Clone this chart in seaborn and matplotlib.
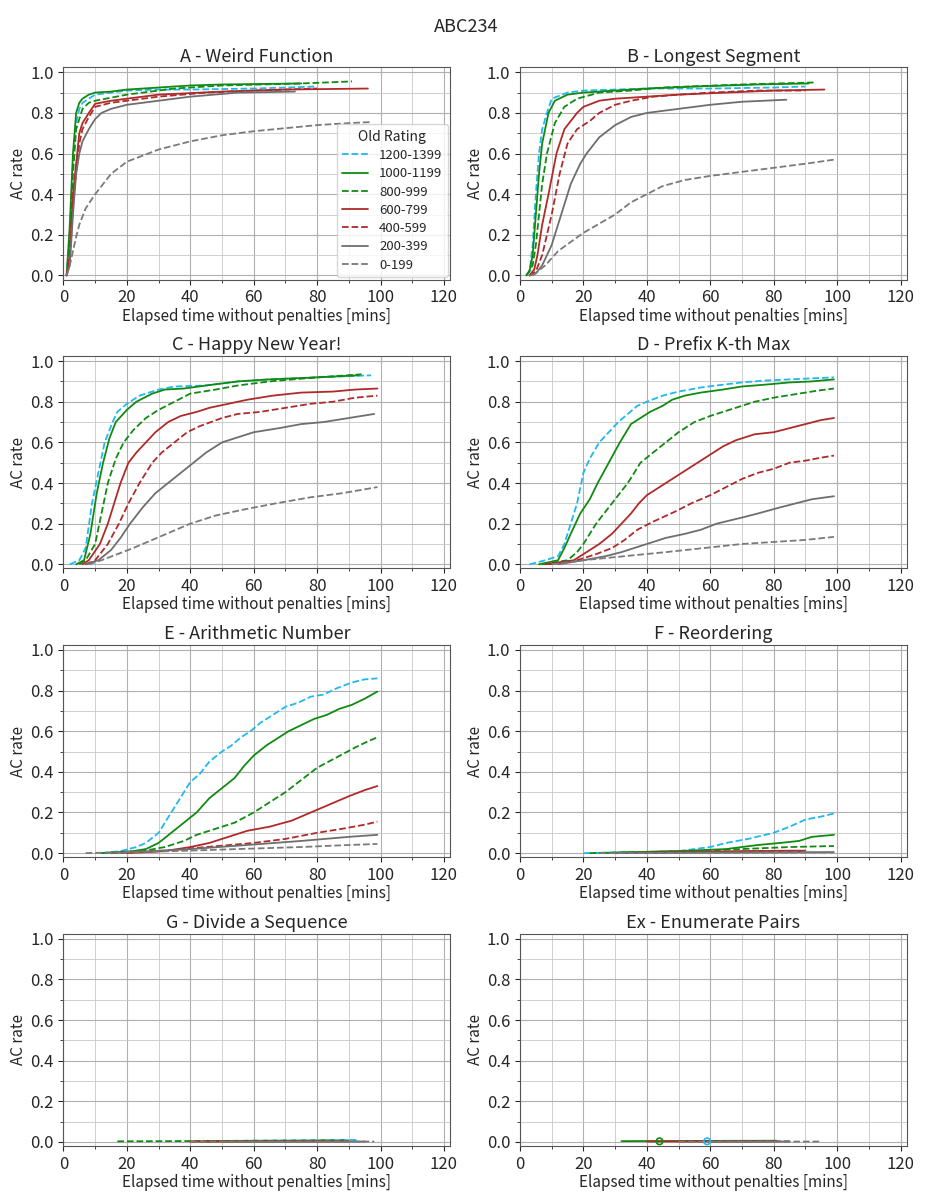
import matplotlib
matplotlib.use('Agg')
import matplotlib.pyplot as plt
import seaborn as sns
import pandas as pd
from matplotlib.ticker import MultipleLocator

# rating groups and how each one is drawn
ratings = ['1200-1399', '1000-1199', '800-999', '600-799', '400-599', '200-399', '0-199']
colors = ['#1fb8f0', '#118a11', '#118a11', '#b02a2a', '#b02a2a', '#6e6e6e', '#7a7a7a']
dashed = [True, False, True, False, True, False, True]

titles = ['A - Weird Function', 'B - Longest Segment', 'C - Happy New Year!', 'D - Prefix K-th Max',
          'E - Arithmetic Number', 'F - Reordering', 'G - Divide a Sequence', 'Ex - Enumerate Pairs']

# elapsed time [mins] / AC rate, one row per rating group (same order as ratings)
a_time = [[1, 2, 3, 4, 5, 6, 8, 10, 15, 20, 30, 40, 60, 80],
          [1, 2, 3, 4, 5, 6, 8, 10, 15, 20, 30, 40, 50, 75],
          [1, 2, 3, 4, 6, 8, 10, 15, 20, 35, 50, 75, 91],
          [1, 2, 3, 5, 6, 8, 10, 15, 20, 30, 50, 70, 96],
          [1, 2, 3, 5, 6, 8, 10, 15, 20, 30, 45, 60, 80],
          [1, 2, 3, 4, 5, 6, 8, 10, 12, 15, 20, 30, 40, 55, 73],
          [1, 2, 3, 4, 5, 7, 10, 15, 20, 30, 40, 50, 60, 70, 80, 90, 97]]
a_rate = [[0, 0.2, 0.55, 0.75, 0.82, 0.85, 0.87, 0.89, 0.9, 0.91, 0.915, 0.915, 0.92, 0.93],
          [0, 0.25, 0.6, 0.8, 0.85, 0.87, 0.89, 0.9, 0.905, 0.915, 0.925, 0.935, 0.94, 0.945],
          [0, 0.15, 0.5, 0.72, 0.82, 0.85, 0.86, 0.875, 0.89, 0.92, 0.935, 0.945, 0.955],
          [0, 0.1, 0.4, 0.7, 0.75, 0.8, 0.845, 0.86, 0.87, 0.89, 0.905, 0.915, 0.92],
          [0, 0.08, 0.35, 0.65, 0.72, 0.78, 0.83, 0.85, 0.86, 0.88, 0.9, 0.91, 0.92],
          [0, 0.05, 0.3, 0.5, 0.6, 0.66, 0.72, 0.77, 0.8, 0.82, 0.84, 0.86, 0.88, 0.9, 0.905],
          [0, 0.05, 0.12, 0.19, 0.25, 0.33, 0.4, 0.5, 0.56, 0.62, 0.66, 0.69, 0.71, 0.725, 0.74, 0.75, 0.755]]

b_time = [[2, 3, 4, 5, 6, 7, 8.5, 10, 15, 20, 40, 60, 80, 90],
          [2, 3, 4, 5, 6, 7, 9, 11, 15, 20, 30, 40, 55, 75, 91],
          [2, 4, 5, 6, 7, 8.5, 11, 14, 18, 25, 35, 45, 70, 93],
          [3, 4.5, 5.5, 7, 9, 11.5, 14, 18, 20, 25, 30, 40, 50, 65, 80, 96],
          [3, 5, 7, 8.5, 10, 12.5, 15, 18, 22, 25, 30, 35, 42, 50, 60, 75, 90],
          [3, 5, 7, 10, 13, 16, 19, 21, 25, 30, 35, 40, 50, 60, 70, 84],
          [4, 8, 12, 20, 30, 35, 40, 45, 52, 60, 70, 80, 90, 99]]
b_rate = [[0, 0.02, 0.15, 0.4, 0.6, 0.72, 0.8, 0.87, 0.9, 0.91, 0.92, 0.92, 0.925, 0.93],
          [0, 0.02, 0.1, 0.3, 0.5, 0.65, 0.8, 0.86, 0.89, 0.9, 0.91, 0.92, 0.93, 0.94, 0.945],
          [0, 0.05, 0.15, 0.3, 0.45, 0.6, 0.75, 0.83, 0.87, 0.9, 0.91, 0.925, 0.94, 0.95],
          [0, 0.03, 0.1, 0.25, 0.4, 0.6, 0.72, 0.8, 0.83, 0.86, 0.87, 0.88, 0.89, 0.9, 0.91, 0.915],
          [0, 0.02, 0.1, 0.2, 0.3, 0.5, 0.65, 0.72, 0.76, 0.8, 0.84, 0.86, 0.88, 0.89, 0.9, 0.91, 0.91],
          [0, 0.01, 0.05, 0.15, 0.3, 0.45, 0.55, 0.6, 0.68, 0.74, 0.78, 0.8, 0.82, 0.84, 0.855, 0.865],
          [0, 0.05, 0.12, 0.21, 0.3, 0.36, 0.4, 0.44, 0.47, 0.49, 0.51, 0.53, 0.55, 0.57]]

c_time = [[2, 5, 7, 9, 11, 13, 15.5, 17, 20, 24, 30, 35, 45, 55, 65, 80, 97],
          [4, 6.5, 8.5, 10.5, 12.5, 14.5, 16.5, 20, 23, 28, 32, 38, 45, 55, 65, 80, 93],
          [5, 7, 10, 12, 14, 16.5, 19, 22, 26, 30, 35, 40, 48, 55, 65, 80, 94],
          [6, 8, 11.5, 14, 16, 18, 20.5, 23, 26, 29, 33, 37, 42, 46, 52, 58, 66, 75, 85, 92, 99],
          [7, 10, 14, 17.5, 20.5, 24, 28, 31, 35, 39, 43, 50, 55, 62, 70, 78, 85, 92, 99],
          [7, 11, 15, 18, 21, 25, 29, 33, 37, 41, 45, 50, 56, 60, 68, 75, 82, 90, 98],
          [8, 12, 17, 22, 28, 34, 40, 48, 57, 67, 78, 88, 99]]
c_rate = [[0, 0.02, 0.08, 0.3, 0.45, 0.6, 0.7, 0.75, 0.79, 0.83, 0.86, 0.875, 0.88, 0.9, 0.91, 0.92, 0.93],
          [0, 0.02, 0.15, 0.35, 0.5, 0.62, 0.7, 0.76, 0.8, 0.84, 0.86, 0.865, 0.88, 0.9, 0.91, 0.92, 0.93],
          [0, 0.02, 0.1, 0.25, 0.4, 0.52, 0.6, 0.66, 0.72, 0.76, 0.8, 0.84, 0.86, 0.88, 0.9, 0.92, 0.935],
          [0, 0.02, 0.1, 0.2, 0.3, 0.4, 0.5, 0.55, 0.6, 0.65, 0.7, 0.73, 0.75, 0.77, 0.79, 0.81, 0.83, 0.845, 0.85,
           0.86, 0.865],
          [0, 0.02, 0.1, 0.2, 0.3, 0.4, 0.5, 0.55, 0.6, 0.65, 0.68, 0.72, 0.74, 0.75, 0.77, 0.79, 0.8, 0.82, 0.83],
          [0, 0.02, 0.07, 0.13, 0.2, 0.28, 0.35, 0.4, 0.45, 0.5, 0.55, 0.6, 0.63, 0.65, 0.67, 0.69, 0.7, 0.72, 0.74],
          [0, 0.02, 0.05, 0.08, 0.12, 0.16, 0.2, 0.24, 0.27, 0.3, 0.33, 0.35, 0.38]]

d_time = [[3, 8, 12, 14, 16, 18, 20, 22, 25, 28, 31, 34, 37, 40, 45, 50, 57, 62, 70, 78, 85, 92, 99],
          [6, 12, 14, 16, 19, 22, 24.5, 28, 31.5, 35, 38, 41, 45, 48, 52, 57, 64, 70, 78, 85, 92, 99],
          [7, 15, 18, 20, 24, 29, 34, 38, 42, 46, 50, 55, 60, 66, 70, 74, 80, 88, 94, 99],
          [8, 17, 21, 25, 29, 32, 35, 37.5, 40, 44, 48, 52, 56, 60, 64, 68, 74, 80, 85, 90, 95, 99],
          [9, 18, 24, 29, 33, 37, 42, 49, 54, 60, 65, 70, 75, 80, 85, 90, 95, 99],
          [12, 20, 27, 32, 36, 40, 46, 52, 57, 62, 70, 75, 82, 87, 92, 99],
          [10, 20, 33, 46, 58, 70, 80, 90, 99]]
d_rate = [[0, 0.02, 0.04, 0.1, 0.2, 0.3, 0.45, 0.52, 0.6, 0.65, 0.7, 0.74, 0.78, 0.8, 0.83, 0.85, 0.87, 0.88,
           0.895, 0.905, 0.91, 0.915, 0.92],
          [0, 0.02, 0.08, 0.15, 0.25, 0.32, 0.4, 0.5, 0.6, 0.69, 0.72, 0.75, 0.78, 0.81, 0.83, 0.845, 0.86, 0.875,
           0.885, 0.895, 0.9, 0.91],
          [0, 0.02, 0.06, 0.1, 0.2, 0.3, 0.4, 0.5, 0.55, 0.6, 0.65, 0.7, 0.73, 0.76, 0.78, 0.8, 0.82, 0.84, 0.855,
           0.865],
          [0, 0.02, 0.06, 0.1, 0.15, 0.2, 0.25, 0.3, 0.34, 0.38, 0.42, 0.46, 0.5, 0.54, 0.58, 0.61, 0.64, 0.65, 0.67,
           0.69, 0.71, 0.72],
          [0, 0.02, 0.05, 0.08, 0.12, 0.17, 0.21, 0.26, 0.3, 0.34, 0.38, 0.42, 0.45, 0.47, 0.5, 0.51, 0.525, 0.535],
          [0, 0.02, 0.04, 0.06, 0.08, 0.1, 0.13, 0.15, 0.17, 0.2, 0.23, 0.25, 0.28, 0.3, 0.32, 0.335],
          [0, 0.02, 0.04, 0.06, 0.08, 0.1, 0.11, 0.12, 0.135]]

e_time = [[12, 18, 23, 26, 30, 34, 36, 38, 40, 43, 46, 50, 53, 56, 59, 62, 66, 70, 74, 78, 82, 86, 91, 95, 99],
          [12, 22, 26, 30, 34, 38, 42, 46, 50, 54, 57, 60, 64, 67, 71, 75, 79, 83, 87, 91, 95, 99],
          [15, 25, 32, 38, 42, 48, 54, 60, 65, 70, 75, 80, 86, 92, 96, 99],
          [20, 32, 40, 46, 52, 58, 65, 72, 78, 84, 90, 95, 99],
          [15, 30, 45, 60, 70, 80, 88, 95, 99],
          [15, 28, 40, 58, 75, 90, 99],
          [7, 20, 35, 55, 75, 90, 99]]
e_rate = [[0, 0.01, 0.03, 0.05, 0.1, 0.2, 0.25, 0.3, 0.35, 0.39, 0.45, 0.5, 0.53, 0.57, 0.6, 0.64, 0.68, 0.72,
           0.74, 0.77, 0.78, 0.81, 0.84, 0.855, 0.86],
          [0, 0.01, 0.02, 0.05, 0.1, 0.15, 0.2, 0.27, 0.32, 0.37, 0.43, 0.48, 0.53, 0.56, 0.6, 0.63, 0.66, 0.68,
           0.71, 0.73, 0.76, 0.795],
          [0, 0.01, 0.03, 0.06, 0.09, 0.12, 0.15, 0.2, 0.25, 0.3, 0.36, 0.42, 0.47, 0.52, 0.55, 0.57],
          [0, 0.01, 0.03, 0.05, 0.08, 0.11, 0.13, 0.16, 0.2, 0.24, 0.28, 0.31, 0.33],
          [0, 0.01, 0.03, 0.05, 0.07, 0.1, 0.12, 0.14, 0.155],
          [0, 0.01, 0.02, 0.04, 0.06, 0.08, 0.09],
          [0, 0.005, 0.01, 0.02, 0.03, 0.04, 0.045]]

f_time = [[20, 30, 50, 60, 65, 72, 80, 85, 90, 95, 99],
          [25, 50, 65, 75, 82, 88, 92, 99],
          [22, 35, 55, 70, 85, 99],
          [30, 50, 70, 85, 90],
          [30, 60, 90],
          [30, 60, 99],
          [25, 99]]
f_rate = [[0, 0.003, 0.01, 0.03, 0.05, 0.07, 0.1, 0.13, 0.165, 0.18, 0.195],
          [0, 0.01, 0.02, 0.04, 0.05, 0.06, 0.08, 0.09],
          [0, 0.005, 0.01, 0.02, 0.03, 0.035],
          [0, 0.005, 0.01, 0.012, 0.012],
          [0, 0.005, 0.01],
          [0, 0.003, 0.005],
          [0, 0.003]]

g_time = [[45, 60, 80, 88, 93], [45, 85], [17, 50, 70, 90], [40, 90], [40, 90], [50, 95], [40, 98]]
g_rate = [[0.003, 0.006, 0.008, 0.01, 0.01], [0.003, 0.006], [0.003, 0.005, 0.007, 0.008], [0.002, 0.003],
          [0.002, 0.003], [0.001, 0.002], [0.001, 0.002]]

ex_time = [[59], [32, 81], [44], [40, 80], [50, 85], [60, 85], [50, 95]]
ex_rate = [[0.003], [0.004, 0.006], [0.003], [0.002, 0.003], [0.002, 0.003], [0.001, 0.002], [0.001, 0.002]]

panel_times = [a_time, b_time, c_time, d_time, e_time, f_time, g_time, ex_time]
panel_rates = [a_rate, b_rate, c_rate, d_rate, e_rate, f_rate, g_rate, ex_rate]

sns.set_style('ticks')
plt.rcParams['font.family'] = ['Noto Sans CJK JP', 'DejaVu Sans']

palette = dict(zip(ratings, colors))
dash_map = {r: ((3.7, 1.6) if d else '') for r, d in zip(ratings, dashed)}

fig, axes = plt.subplots(4, 2, figsize=(9.33, 12), dpi=100)
fig.suptitle('ABC234', fontsize=13, y=0.985)

for i, ax in enumerate(axes.flat):
    rows = []
    for name, ts, rs in zip(ratings, panel_times[i], panel_rates[i]):
        for t, r in zip(ts, rs):
            rows.append({'time': t, 'rate': r, 'rating': name})
    df = pd.DataFrame(rows)
    counts = df.groupby('rating')['time'].count()
    multi = df[df['rating'].map(counts) > 1]
    single = df[df['rating'].map(counts) == 1]

    sns.lineplot(data=multi, x='time', y='rate', hue='rating', style='rating',
                 hue_order=ratings, style_order=ratings, palette=palette, dashes=dash_map,
                 estimator=None, sort=False, linewidth=1.3, legend=(i == 0), ax=ax)
    for _, row in single.iterrows():
        sns.scatterplot(x=[row['time']], y=[row['rate']], marker='o', s=22, facecolor='none',
                        edgecolor=palette[row['rating']], linewidth=1.2, ax=ax, zorder=3)

    ax.set_xlim(0, 122)
    ax.set_ylim(-0.02, 1.025)
    ax.xaxis.set_major_locator(MultipleLocator(20))
    ax.xaxis.set_minor_locator(MultipleLocator(10))
    ax.yaxis.set_major_locator(MultipleLocator(0.2))
    ax.yaxis.set_minor_locator(MultipleLocator(0.1))
    ax.grid(which='major', color='#b0b0b0', linewidth=0.8)
    ax.grid(which='minor', color='#c8c8c8', linewidth=0.6)
    ax.set_axisbelow(True)
    ax.tick_params(labelsize=12)
    ax.set_title(titles[i], fontsize=13, pad=4)
    ax.set_xlabel('Elapsed time without penalties [mins]', fontsize=11, labelpad=1)
    ax.set_ylabel('AC rate', fontsize=11, labelpad=2)
    for s in ax.spines.values():
        s.set_color('#555555')

    if i == 0:
        leg = ax.legend(title='Old Rating', loc='lower right', fontsize=9.5, title_fontsize=10,
                        handlelength=2.0, labelspacing=0.4, borderaxespad=0.2)
        leg.get_frame().set_edgecolor('#cccccc')

plt.subplots_adjust(left=0.068, right=0.972, top=0.944, bottom=0.045, hspace=0.36, wspace=0.18)
plt.savefig('out.png')
